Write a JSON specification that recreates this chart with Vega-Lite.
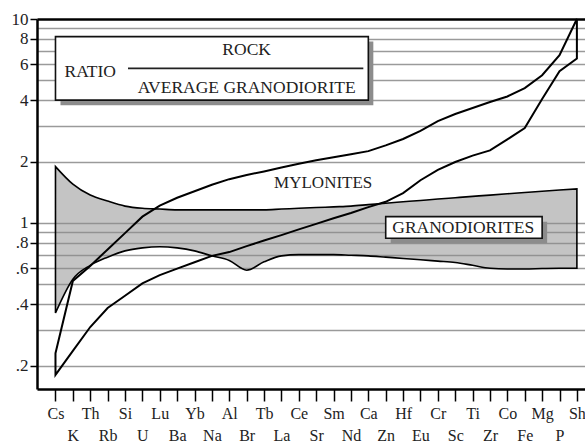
{
  "$schema": "https://vega.github.io/schema/vega-lite/v6.json",
  "width": 548,
  "height": 370,
  "autosize": {"type": "none"},
  "padding": {"left": 37, "top": 19, "right": 0, "bottom": 54},
  "background": "white",
  "config": {"view": {"stroke": null}},
  "datasets": {
    "profile": [
      {"element": "Cs", "gran_hi": 1.89, "gran_lo": 0.362, "myl_hi": 0.23, "myl_lo": 0.18},
      {"element": "K", "gran_hi": 1.55, "gran_lo": 0.53, "myl_hi": 0.52, "myl_lo": 0.236},
      {"element": "Th", "gran_hi": 1.37, "gran_lo": 0.62, "myl_hi": 0.616, "myl_lo": 0.309},
      {"element": "Rb", "gran_hi": 1.28, "gran_lo": 0.68, "myl_hi": 0.742, "myl_lo": 0.383},
      {"element": "Si", "gran_hi": 1.21, "gran_lo": 0.73, "myl_hi": 0.892, "myl_lo": 0.44},
      {"element": "U", "gran_hi": 1.18, "gran_lo": 0.755, "myl_hi": 1.074, "myl_lo": 0.506},
      {"element": "Lu", "gran_hi": 1.17, "gran_lo": 0.765, "myl_hi": 1.216, "myl_lo": 0.555},
      {"element": "Ba", "gran_hi": 1.16, "gran_lo": 0.755, "myl_hi": 1.33, "myl_lo": 0.597},
      {"element": "Yb", "gran_hi": 1.16, "gran_lo": 0.73, "myl_hi": 1.43, "myl_lo": 0.642},
      {"element": "Na", "gran_hi": 1.16, "gran_lo": 0.69, "myl_hi": 1.54, "myl_lo": 0.69},
      {"element": "Al", "gran_hi": 1.16, "gran_lo": 0.655, "myl_hi": 1.64, "myl_lo": 0.72},
      {"element": "Br", "gran_hi": 1.16, "gran_lo": 0.587, "myl_hi": 1.72, "myl_lo": 0.77},
      {"element": "Tb", "gran_hi": 1.16, "gran_lo": 0.645, "myl_hi": 1.79, "myl_lo": 0.82},
      {"element": "La", "gran_hi": 1.17, "gran_lo": 0.69, "myl_hi": 1.87, "myl_lo": 0.872},
      {"element": "Ce", "gran_hi": 1.18, "gran_lo": 0.70, "myl_hi": 1.95, "myl_lo": 0.93},
      {"element": "Sr", "gran_hi": 1.19, "gran_lo": 0.70, "myl_hi": 2.03, "myl_lo": 0.99},
      {"element": "Sm", "gran_hi": 1.20, "gran_lo": 0.70, "myl_hi": 2.10, "myl_lo": 1.055},
      {"element": "Nd", "gran_hi": 1.21, "gran_lo": 0.695, "myl_hi": 2.17, "myl_lo": 1.12},
      {"element": "Ca", "gran_hi": 1.23, "gran_lo": 0.69, "myl_hi": 2.25, "myl_lo": 1.196},
      {"element": "Zn", "gran_hi": 1.25, "gran_lo": 0.68, "myl_hi": 2.40, "myl_lo": 1.27},
      {"element": "Hf", "gran_hi": 1.27, "gran_lo": 0.67, "myl_hi": 2.58, "myl_lo": 1.40},
      {"element": "Eu", "gran_hi": 1.29, "gran_lo": 0.66, "myl_hi": 2.83, "myl_lo": 1.62},
      {"element": "Cr", "gran_hi": 1.31, "gran_lo": 0.65, "myl_hi": 3.16, "myl_lo": 1.82},
      {"element": "Sc", "gran_hi": 1.33, "gran_lo": 0.64, "myl_hi": 3.42, "myl_lo": 1.99},
      {"element": "Ti", "gran_hi": 1.35, "gran_lo": 0.62, "myl_hi": 3.66, "myl_lo": 2.14},
      {"element": "Zr", "gran_hi": 1.37, "gran_lo": 0.60, "myl_hi": 3.92, "myl_lo": 2.27},
      {"element": "Co", "gran_hi": 1.39, "gran_lo": 0.595, "myl_hi": 4.17, "myl_lo": 2.57},
      {"element": "Fe", "gran_hi": 1.41, "gran_lo": 0.595, "myl_hi": 4.58, "myl_lo": 2.92},
      {"element": "Mg", "gran_hi": 1.43, "gran_lo": 0.598, "myl_hi": 5.3, "myl_lo": 4.05},
      {"element": "P", "gran_hi": 1.45, "gran_lo": 0.60, "myl_hi": 6.65, "myl_lo": 5.55},
      {"element": "Sh", "gran_hi": 1.47, "gran_lo": 0.60, "myl_hi": 10, "myl_lo": 6.4}
    ],
    "boxes": [
      {"box": "ratio", "x_start": "Cs", "x_end": "Ca", "top": 8.2, "bottom": 4.0},
      {"box": "granodiorites", "x_start": "Zn", "x_end": "Mg", "top": 1.074, "bottom": 0.841}
    ],
    "titles": [
      {"text": "ROCK", "element": "Br", "value": 7.05},
      {"text": "RATIO", "element": "Th", "value": 5.52},
      {"text": "AVERAGE GRANODIORITE", "element": "Br", "value": 4.57}
    ],
    "fraction": [{"x_start": "Si", "x_end": "Ca", "value": 5.73}],
    "myl_label": [{"text": "MYLONITES", "element": "Sr", "value": 1.57}],
    "gran_label": [{"text": "GRANODIORITES", "element": "Sc", "value": 0.945}]
  },
  "layer": [
    {
      "data": {"name": "profile"},
      "mark": {"type": "area", "interpolate": "monotone", "fill": "#8a8a8a", "fillOpacity": 0.5, "stroke": "black", "strokeWidth": 1.6},
      "encoding": {
        "x": {
          "field": "element", "type": "ordinal",
          "scale": {"type": "point", "domain": ["Cs","K","Th","Rb","Si","U","Lu","Ba","Yb","Na","Al","Br","Tb","La","Ce","Sr","Sm","Nd","Ca","Zn","Hf","Eu","Cr","Sc","Ti","Zr","Co","Fe","Mg","P","Sh"], "padding": 0.765, "align": 0.695},
          "axis": {
            "title": null, "labelAngle": 0, "labelFont": "Liberation Serif, serif", "labelFontSize": 16, "labelColor": "#222",
            "labelBaseline": "top", "labelOverlap": false, "labelFlush": false,
            "labelPadding": {"condition": {"test": "indexof(['K','Rb','U','Ba','Na','Br','La','Sr','Nd','Zn','Eu','Sc','Zr','Fe','P'], datum.value) >= 0", "value": 26}, "value": 4},
            "tickColor": "black", "tickSize": 12, "tickWidth": 1.5,
            "domainColor": "black", "domainWidth": 2.5, "grid": false
          }
        },
        "y": {
          "field": "gran_hi", "type": "quantitative",
          "scale": {"type": "log", "domain": [0.1535, 10], "nice": false},
          "axis": {
            "title": null,
            "values": [0.2,0.3,0.4,0.5,0.6,0.7,0.8,0.9,1,2,3,4,5,6,7,8,9,10],
            "grid": true,
            "gridColor": {"condition": {"test": "datum.value == 10", "value": "black"}, "value": "#9a9a9a"},
            "gridWidth": {"condition": {"test": "datum.value == 10", "value": 2.5}, "value": 1.6},
            "tickOpacity": {"condition": {"test": "indexof([0.2,0.4,0.6,0.8,1,2,4,6,8,10], datum.value) >= 0", "value": 1}, "value": 0},
            "labelExpr": "indexof([0.2,0.4,0.6,0.8], datum.value) >= 0 ? replace(format(datum.value, '.1f'), '0.', '.') : (indexof([1,2,4,6,8,10], datum.value) >= 0 ? format(datum.value, 'd') : '')",
            "labelFont": "Liberation Serif, serif", "labelFontSize": 17, "labelColor": "#222",
            "labelPadding": 2, "labelOverlap": false, "labelFlush": false,
            "tickColor": "black", "tickSize": 7, "tickWidth": 1.5,
            "domainColor": "black", "domainWidth": 2.5
          }
        },
        "y2": {"field": "gran_lo"}
      }
    },
    {
      "data": {"name": "profile"},
      "mark": {"type": "area", "interpolate": "linear", "fill": "white", "fillOpacity": 0, "stroke": "black", "strokeWidth": 2},
      "encoding": {
        "x": {"field": "element", "type": "ordinal"},
        "y": {"field": "myl_hi", "type": "quantitative"},
        "y2": {"field": "myl_lo"}
      }
    },
    {
      "data": {"name": "boxes"},
      "mark": {"type": "rect", "fill": "#8c8c8c", "xOffset": 5, "x2Offset": 5, "yOffset": 5, "y2Offset": 5},
      "encoding": {
        "x": {"field": "x_start", "type": "ordinal"},
        "x2": {"field": "x_end"},
        "y": {"field": "top", "type": "quantitative"},
        "y2": {"field": "bottom"}
      }
    },
    {
      "data": {"name": "boxes"},
      "mark": {"type": "rect", "fill": "white", "stroke": "#111", "strokeWidth": 1.6},
      "encoding": {
        "x": {"field": "x_start", "type": "ordinal"},
        "x2": {"field": "x_end"},
        "y": {"field": "top", "type": "quantitative"},
        "y2": {"field": "bottom"}
      }
    },
    {
      "data": {"name": "fraction"},
      "mark": {"type": "rule", "stroke": "#222", "strokeWidth": 1.6, "xOffset": 3, "x2Offset": -5},
      "encoding": {
        "x": {"field": "x_start", "type": "ordinal"},
        "x2": {"field": "x_end"},
        "y": {"field": "value", "type": "quantitative"}
      }
    },
    {
      "data": {"name": "titles"},
      "mark": {"type": "text", "font": "Liberation Serif, serif", "fontSize": 17.5, "color": "#222", "align": "center", "baseline": "middle"},
      "encoding": {
        "x": {"field": "element", "type": "ordinal"},
        "y": {"field": "value", "type": "quantitative"},
        "text": {"field": "text"}
      }
    },
    {
      "data": {"name": "myl_label"},
      "mark": {"type": "text", "font": "Liberation Serif, serif", "fontSize": 17, "color": "#222", "align": "center", "baseline": "middle", "dx": 7},
      "encoding": {
        "x": {"field": "element", "type": "ordinal"},
        "y": {"field": "value", "type": "quantitative"},
        "text": {"field": "text"}
      }
    },
    {
      "data": {"name": "gran_label"},
      "mark": {"type": "text", "font": "Liberation Serif, serif", "fontSize": 17.5, "color": "#222", "align": "center", "baseline": "middle", "dx": 8},
      "encoding": {
        "x": {"field": "element", "type": "ordinal"},
        "y": {"field": "value", "type": "quantitative"},
        "text": {"field": "text"}
      }
    }
  ]
}
